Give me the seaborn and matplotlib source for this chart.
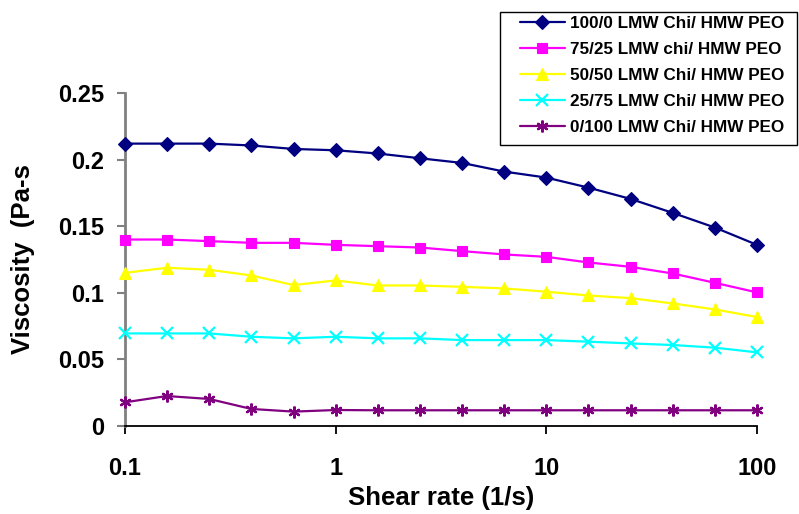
import matplotlib
matplotlib.use("Agg")
import matplotlib.pyplot as plt
from matplotlib.patches import Rectangle
import seaborn as sns
import pandas as pd

shear_rate = [0.1, 0.158, 0.251, 0.398, 0.631, 1.0, 1.58, 2.51, 3.98, 6.31,
              10.0, 15.8, 25.1, 39.8, 63.1, 100.0]

v_100_0 = [0.212, 0.212, 0.212, 0.2106, 0.208, 0.207, 0.2046, 0.201, 0.1975, 0.191,
           0.1865, 0.179, 0.1705, 0.160, 0.149, 0.136]
v_75_25 = [0.140, 0.140, 0.1388, 0.1375, 0.1375, 0.136, 0.135, 0.134, 0.1313, 0.1288,
           0.127, 0.1228, 0.1195, 0.1145, 0.1075, 0.1003]
v_50_50 = [0.115, 0.1188, 0.1173, 0.113, 0.1058, 0.1093, 0.1055, 0.1055, 0.1045, 0.1033,
           0.1008, 0.098, 0.096, 0.092, 0.0875, 0.0818]
v_25_75 = [0.0695, 0.0695, 0.0695, 0.067, 0.0658, 0.067, 0.0658, 0.0658, 0.0645, 0.0645,
           0.0645, 0.0633, 0.062, 0.0608, 0.0588, 0.0553]
v_0_100 = [0.0178, 0.0225, 0.0203, 0.0128, 0.0108, 0.012, 0.0118, 0.0118, 0.0118, 0.0118,
           0.0118, 0.0118, 0.0118, 0.0118, 0.0118, 0.0118]

labels = ["100/0 LMW Chi/ HMW PEO", "75/25 LMW chi/ HMW PEO", "50/50 LMW Chi/ HMW PEO",
          "25/75 LMW Chi/ HMW PEO", "0/100 LMW Chi/ HMW PEO"]
series = [v_100_0, v_75_25, v_50_50, v_25_75, v_0_100]
colors = ["#000080", "#FF00FF", "#FFFF00", "#00FFFF", "#800080"]
markers = ["D", "s", "^", "x", (6, 2, 0)]
msizes = [6.8, 6.8, 8.0, 8.0, 8.5]
medges = [0.8, 0.8, 0.8, 1.6, 1.6]

x_ticks = [0.1, 1, 10, 100]
x_ticklabels = ["0.1", "1", "10", "100"]
y_ticks = [0, 0.05, 0.1, 0.15, 0.2, 0.25]
y_ticklabels = ["0", "0.05", "0.1", "0.15", "0.2", "0.25"]

sns.set_theme(style="white")
plt.rcParams["font.family"] = ["Liberation Sans", "DejaVu Sans"]
plt.rcParams["font.weight"] = "bold"

W, H = 799, 514
fig = plt.figure(figsize=(W / 100, H / 100), dpi=100)
ax = fig.add_axes([125 / W, 1 - 426 / H, (757 - 125) / W, (426 - 93) / H])

for lab, vals, col, mk, ms, me in zip(labels, series, colors, markers, msizes, medges):
    df = pd.DataFrame({"shear": shear_rate, "visc": vals})
    sns.lineplot(data=df, x="shear", y="visc", ax=ax, color=col, marker=mk,
                 markersize=ms, markeredgecolor=col, markerfacecolor=col,
                 markeredgewidth=me, linewidth=1.6, label=lab, clip_on=False, zorder=3)

ax.set_xscale("log")
ax.set_xlim(0.1, 100)
ax.set_ylim(0, 0.25)
ax.set_xticks(x_ticks)
ax.set_xticklabels(x_ticklabels)
ax.set_yticks(y_ticks)
ax.set_yticklabels(y_ticklabels)
ax.xaxis.set_minor_locator(matplotlib.ticker.NullLocator())

for s in ["top", "right"]:
    ax.spines[s].set_visible(False)
ax.spines["left"].set_color("#808080")
ax.spines["left"].set_linewidth(2)
ax.spines["bottom"].set_color("black")
ax.spines["bottom"].set_linewidth(1.3)
ax.grid(False)

ax.tick_params(axis="y", direction="out", length=6, width=1.5, color="#808080",
               labelsize=17, pad=9, left=True)
ax.tick_params(axis="x", direction="out", length=6, width=1.3, color="black",
               labelsize=17, pad=16, bottom=True)
for t in ax.get_xticklabels() + ax.get_yticklabels():
    t.set_fontweight("bold")
    t.set_color("black")

ax.set_xlabel("Shear rate (1/s)", fontsize=18.5, fontweight="bold", color="black")
ax.set_ylabel("Viscosity  (Pa-s", fontsize=18.5, fontweight="bold", color="black")
ax.xaxis.set_label_coords(0.5, (426 - 486) / 333)
ax.yaxis.set_label_coords((35 - 125) / 632, 0.5)

leg = ax.legend(loc="upper left", bbox_to_anchor=(520 / W, 1 - 16 / H),
                bbox_transform=fig.transFigure, frameon=False,
                prop={"weight": "bold", "size": 12.3}, handlelength=2.63,
                handletextpad=0.3, labelspacing=0.64, borderpad=0.0,
                borderaxespad=0.0)
for txt in leg.get_texts():
    txt.set_color("black")

fig.patches.append(Rectangle((500 / W, 1 - 145 / H), (797 - 500) / W, (145 - 12) / H,
                             transform=fig.transFigure, fill=False,
                             edgecolor="black", linewidth=1.0, zorder=5))

fig.savefig("out.png", dpi=100)
